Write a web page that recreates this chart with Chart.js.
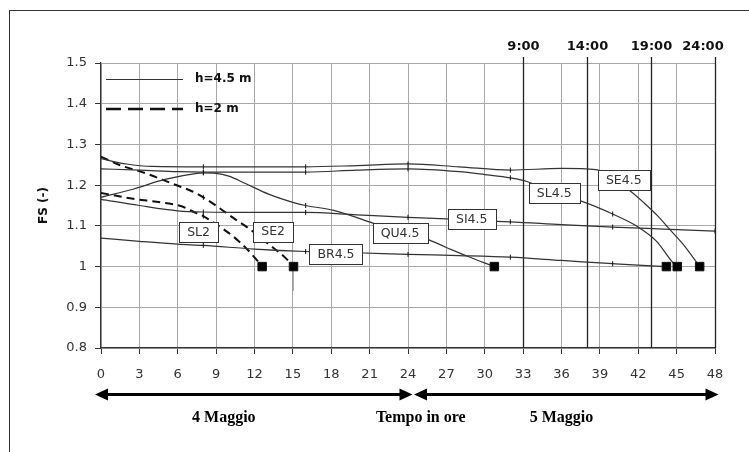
<!DOCTYPE html>
<html>
<head>
<meta charset="utf-8">
<script src="https://cdn.jsdelivr.net/npm/chart.js@4/dist/chart.umd.min.js"></script>
<style>
  html, body { margin: 0; padding: 0; background: #fff; overflow: hidden; }
  #frame { position: absolute; left: 9px; top: 10px; width: 800px; height: 500px; border: 1px solid #333; }
  #c { position: absolute; left: 0; top: 0; }
</style>
</head>
<body>
<div id="frame"></div>
<canvas id="c" width="749" height="452"></canvas>
<script>
// series: hours from start of 4 May, FS values
const se45Hours = [0, 2, 4, 8, 12, 16, 20, 24, 28, 32, 36, 38.7, 40, 41.4, 42.5, 43.5, 44.5, 45.5, 46.8];
const se45Fs = [1.265, 1.252, 1.246, 1.245, 1.245, 1.245, 1.248, 1.252, 1.245, 1.237, 1.241, 1.238, 1.215, 1.185, 1.155, 1.125, 1.09, 1.055, 1.0];

const sl45Hours = [0, 3, 6, 8, 12, 16, 20, 24, 28, 30, 32, 33.3, 35.4, 37.6, 40, 41.9, 43.4, 44.7, 45.05];
const sl45Fs = [1.24, 1.237, 1.233, 1.232, 1.232, 1.232, 1.237, 1.24, 1.233, 1.226, 1.218, 1.209, 1.18, 1.16, 1.129, 1.099, 1.063, 1.01, 1.0];

const qu45Hours = [0, 2.5, 5, 7.5, 8, 9, 10, 11.3, 13.1, 15.2, 16, 18.2, 21.6, 23.4, 25.2, 27, 28.6, 30.75];
const qu45Fs = [1.17, 1.19, 1.214, 1.229, 1.23, 1.229, 1.222, 1.204, 1.178, 1.156, 1.15, 1.138, 1.103, 1.085, 1.071, 1.047, 1.026, 1.0];

const si45Hours = [0, 3, 6, 8, 12, 16, 20, 24, 27, 29, 31, 32, 36, 40, 44, 48];
const si45Fs = [1.165, 1.15, 1.137, 1.134, 1.133, 1.133, 1.127, 1.121, 1.117, 1.114, 1.111, 1.11, 1.103, 1.097, 1.092, 1.087];

const br45Hours = [0, 3, 6, 8, 12, 16, 20, 24, 28, 32, 36, 40, 43.4, 44.2];
const br45Fs = [1.07, 1.062, 1.055, 1.052, 1.043, 1.037, 1.034, 1.03, 1.027, 1.023, 1.015, 1.007, 1.001, 1.0];

const se2Hours = [0, 1.4, 3.5, 5.8, 7.1, 8, 8.7, 10.5, 11.5, 13.1, 14.4, 15.05];
const se2Fs = [1.27, 1.25, 1.229, 1.201, 1.185, 1.17, 1.156, 1.116, 1.095, 1.055, 1.022, 1.0];

const sl2Hours = [0, 2.4, 4.8, 6.3, 7.4, 8, 8.4, 9.7, 10.75, 11.8, 12.6];
const sl2Fs = [1.181, 1.167, 1.157, 1.148, 1.132, 1.124, 1.116, 1.089, 1.063, 1.03, 1.0];

const strayHours = [15, 15];
const strayFs = [1.0, 0.94];

// curve labels and where they sit (hours, FS)
const boxNames = ['SL2', 'SE2', 'BR4.5', 'QU4.5', 'SI4.5', 'SL4.5', 'SE4.5'];
const boxHours = [7.63, 13.46, 18.37, 23.38, 28.98, 35.43, 40.87];
const boxFs = [1.084, 1.086, 1.030, 1.083, 1.116, 1.180, 1.213];

// clock times of 5 May
const clockHours = [33, 38, 43, 48];
const clockLabels = ['9:00', '14:00', '19:00', '24:00'];

const dayLabels = ['4 Maggio', 'Tempo in ore', '5 Maggio'];
const dayHours = [9.6, 25, 36];

const toPoints = (xs, ys) => xs.map((x, i) => ({ x: x, y: ys[i] }));

const isEnd = (ctx) => {
  const pts = ctx.dataset.data;
  return ctx.dataIndex === pts.length - 1 && pts[ctx.dataIndex].y === 1.0;
};
const pointRadius = (ctx) => {
  const p = ctx.dataset.data[ctx.dataIndex];
  if (!p) return 0;
  if (isEnd(ctx)) return 6;
  if (p.x > 0 && p.x % 8 === 0) return 2.5;
  return 0;
};
const pointStyle = (ctx) => (isEnd(ctx) ? 'rect' : 'line');

const makeLine = (label, xs, ys, dashed) => ({
  label: label,
  data: toPoints(xs, ys),
  borderColor: dashed ? '#111' : '#333',
  borderWidth: dashed ? 2 : 1.2,
  borderDash: dashed ? [8, 5] : [],
  backgroundColor: '#000',
  pointRadius: pointRadius,
  pointStyle: pointStyle,
  pointRotation: (ctx) => (isEnd(ctx) ? 0 : 90),
  pointBorderColor: '#111',
  pointBackgroundColor: '#000',
  pointBorderWidth: 1,
  cubicInterpolationMode: 'monotone',
  fill: false,
});

const datasets = [
  makeLine('SE4.5', se45Hours, se45Fs, false),
  makeLine('SL4.5', sl45Hours, sl45Fs, false),
  makeLine('QU4.5', qu45Hours, qu45Fs, false),
  makeLine('SI4.5', si45Hours, si45Fs, false),
  makeLine('BR4.5', br45Hours, br45Fs, false),
  makeLine('SE2', se2Hours, se2Fs, true),
  makeLine('SL2', sl2Hours, sl2Fs, true),
  {
    label: 'stray',
    data: toPoints(strayHours, strayFs),
    borderColor: '#999',
    borderWidth: 1,
    pointRadius: 0,
  },
];

const drawArrowHead = (ctx, tipX, y, dir) => {
  ctx.beginPath();
  ctx.moveTo(tipX, y);
  ctx.lineTo(tipX - dir * 13, y - 6);
  ctx.lineTo(tipX - dir * 13, y + 6);
  ctx.closePath();
  ctx.fill();
};

const overlay = {
  id: 'overlay',
  beforeDatasetsDraw(chart) {
    const { ctx, chartArea: a, scales: { x } } = chart;
    ctx.save();
    ctx.strokeStyle = '#222';
    ctx.lineWidth = 1.3;
    ctx.fillStyle = '#111';
    ctx.font = 'bold 13px "DejaVu Sans"';
    ctx.textAlign = 'center';
    ctx.textBaseline = 'middle';
    clockHours.forEach((h, i) => {
      const px = Math.round(x.getPixelForValue(h)) + 0.5;
      ctx.beginPath();
      ctx.moveTo(px, a.top - 6);
      ctx.lineTo(px, a.bottom);
      ctx.stroke();
      ctx.fillText(clockLabels[i], Math.min(px, a.right - 12), a.top - 16);
    });

    // legend
    ctx.lineWidth = 1.2;
    ctx.strokeStyle = '#333';
    ctx.beginPath();
    ctx.moveTo(a.left + 5, a.top + 16.5);
    ctx.lineTo(a.left + 82, a.top + 16.5);
    ctx.stroke();
    ctx.lineWidth = 2.5;
    ctx.strokeStyle = '#111';
    ctx.setLineDash([15, 7]);
    ctx.beginPath();
    ctx.moveTo(a.left + 5, a.top + 46);
    ctx.lineTo(a.left + 82, a.top + 46);
    ctx.stroke();
    ctx.setLineDash([]);
    ctx.textAlign = 'left';
    ctx.font = 'bold 12px "DejaVu Sans"';
    ctx.fillText('h=4.5 m', a.left + 94, a.top + 16);
    ctx.fillText('h=2 m', a.left + 94, a.top + 46);
    ctx.restore();
  },
  afterDatasetsDraw(chart) {
    const { ctx, scales: { x, y } } = chart;
    ctx.save();
    ctx.font = '12.5px "DejaVu Sans"';
    ctx.textAlign = 'center';
    ctx.textBaseline = 'middle';
    boxNames.forEach((name, i) => {
      const cx = x.getPixelForValue(boxHours[i]);
      const cy = y.getPixelForValue(boxFs[i]);
      const w = Math.round(ctx.measureText(name).width + 16);
      const h = 20;
      const left = Math.round(cx - w / 2) + 0.5;
      const top = Math.round(cy - h / 2) + 0.5;
      ctx.fillStyle = '#fff';
      ctx.fillRect(left, top, w, h);
      ctx.strokeStyle = '#333';
      ctx.lineWidth = 1;
      ctx.strokeRect(left, top, w, h);
      ctx.fillStyle = '#333';
      ctx.fillText(name, cx, cy + 0.5);
    });
    ctx.restore();
  },
  afterDraw(chart) {
    const { ctx, chartArea: a, scales: { x } } = chart;
    const ay = a.bottom + 46.5;
    const x0 = x.getPixelForValue(0);
    const x24 = x.getPixelForValue(24);
    const x48 = x.getPixelForValue(48);
    ctx.save();
    ctx.strokeStyle = '#000';
    ctx.fillStyle = '#000';
    ctx.lineWidth = 3;
    ctx.beginPath();
    ctx.moveTo(x0 - 2, ay);
    ctx.lineTo(x24, ay);
    ctx.moveTo(x24 + 9, ay);
    ctx.lineTo(x48, ay);
    ctx.stroke();
    drawArrowHead(ctx, x0 - 6, ay, -1);
    drawArrowHead(ctx, x24 + 4.5, ay, 1);
    drawArrowHead(ctx, x24 + 6, ay, -1);
    drawArrowHead(ctx, x48 + 3.5, ay, 1);

    ctx.font = 'bold 16px "Liberation Serif"';
    ctx.textAlign = 'center';
    ctx.textBaseline = 'alphabetic';
    dayLabels.forEach((t, i) => {
      ctx.fillText(t, x.getPixelForValue(dayHours[i]), a.bottom + 74);
    });
    ctx.restore();
  },
};

new Chart(document.getElementById('c'), {
  type: 'line',
  data: { datasets: datasets },
  options: {
    responsive: false,
    animation: false,
    parsing: false,
    layout: { padding: { left: 0, top: 63, right: 34, bottom: 0 } },
    plugins: {
      legend: { display: false },
      tooltip: { enabled: false },
    },
    scales: {
      x: {
        type: 'linear',
        min: 0,
        max: 48,
        ticks: {
          stepSize: 3,
          autoSkip: false,
          maxRotation: 0,
          padding: 13,
          color: '#333',
          font: { family: 'DejaVu Sans', size: 13 },
        },
        grid: { color: '#a8a8a8', tickColor: '#333', tickLength: 6 },
        border: { color: '#333', width: 1.2 },
        afterFit: (scale) => { scale.height = 104; },
      },
      y: {
        min: 0.8,
        max: 1.5,
        ticks: {
          stepSize: 0.1,
          padding: 8,
          color: '#333',
          font: { family: 'DejaVu Sans', size: 13 },
          callback: (v) => String(Math.round(v * 10) / 10),
        },
        grid: { color: '#a8a8a8', tickColor: '#333', tickLength: 6 },
        border: { color: '#333', width: 1.2 },
        title: {
          display: true,
          text: 'FS (-)',
          color: '#111',
          font: { family: 'DejaVu Sans', size: 12, weight: 'bold' },
          padding: { top: 37, bottom: 0 },
        },
        afterFit: (scale) => { scale.width = 101; },
      },
    },
  },
  plugins: [overlay],
});
</script>
</body>
</html>
